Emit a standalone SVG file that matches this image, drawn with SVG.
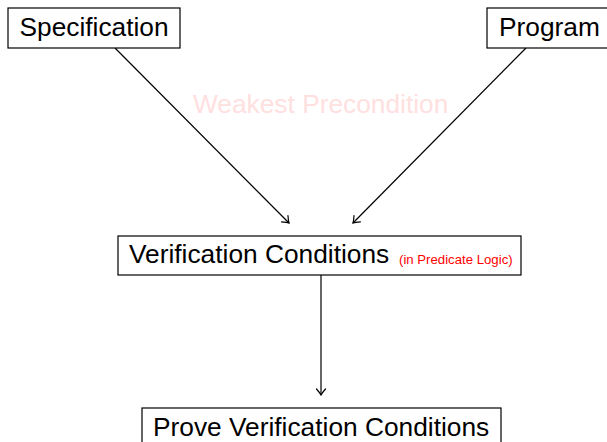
<svg xmlns="http://www.w3.org/2000/svg" width="607" height="442" viewBox="0 0 607 442">
<defs>
<style>
.box{fill:#fff;stroke:#000;stroke-width:1.2}
.t{font-family:"Liberation Sans",Arial,sans-serif;font-size:26.3px;fill:#000}
.s{font-family:"Liberation Sans",Arial,sans-serif;font-size:13.2px;fill:#ff0000}
.w{font-family:"Liberation Sans",Arial,sans-serif;font-size:26.3px;fill:#ffe0e0}
.c{stroke:#000;stroke-width:1.2;fill:none;marker-end:url(#arr)}
</style>
<marker id="arr" markerUnits="userSpaceOnUse" viewBox="-10 -6 12 12" markerWidth="12" markerHeight="12" refX="0" refY="0" orient="auto">
<path d="M-6,-4.5 Q-2,-1 0,0 Q-2,1 -6,4.5" fill="none" stroke="#000" stroke-width="1.2" stroke-linecap="round"/>
</marker>
</defs>
<text class="w" x="193" y="113">Weakest Precondition</text>
<g id="connectors">
<line class="c" x1="115" y1="48" x2="289" y2="223"/>
<line class="c" x1="526" y1="48" x2="353" y2="223"/>
<line class="c" x1="321" y1="275" x2="321" y2="395"/>
</g>
<g id="spec">
<rect class="box" x="8" y="8" width="172" height="40"/>
<text class="t" x="19.5" y="36">Specification</text>
</g>
<g id="program">
<rect class="box" x="487" y="8" width="122" height="40"/>
<text class="t" x="499" y="36">Program</text>
</g>
<g id="vc">
<rect class="box" x="118" y="236" width="403" height="39"/>
<text class="t" x="129" y="263">Verification Conditions</text>
<text class="s" x="399" y="264">(in Predicate Logic)</text>
</g>
<g id="prove">
<rect class="box" x="142" y="408" width="359" height="40"/>
<text class="t" x="153" y="436">Prove Verification Conditions</text>
</g>
</svg>
